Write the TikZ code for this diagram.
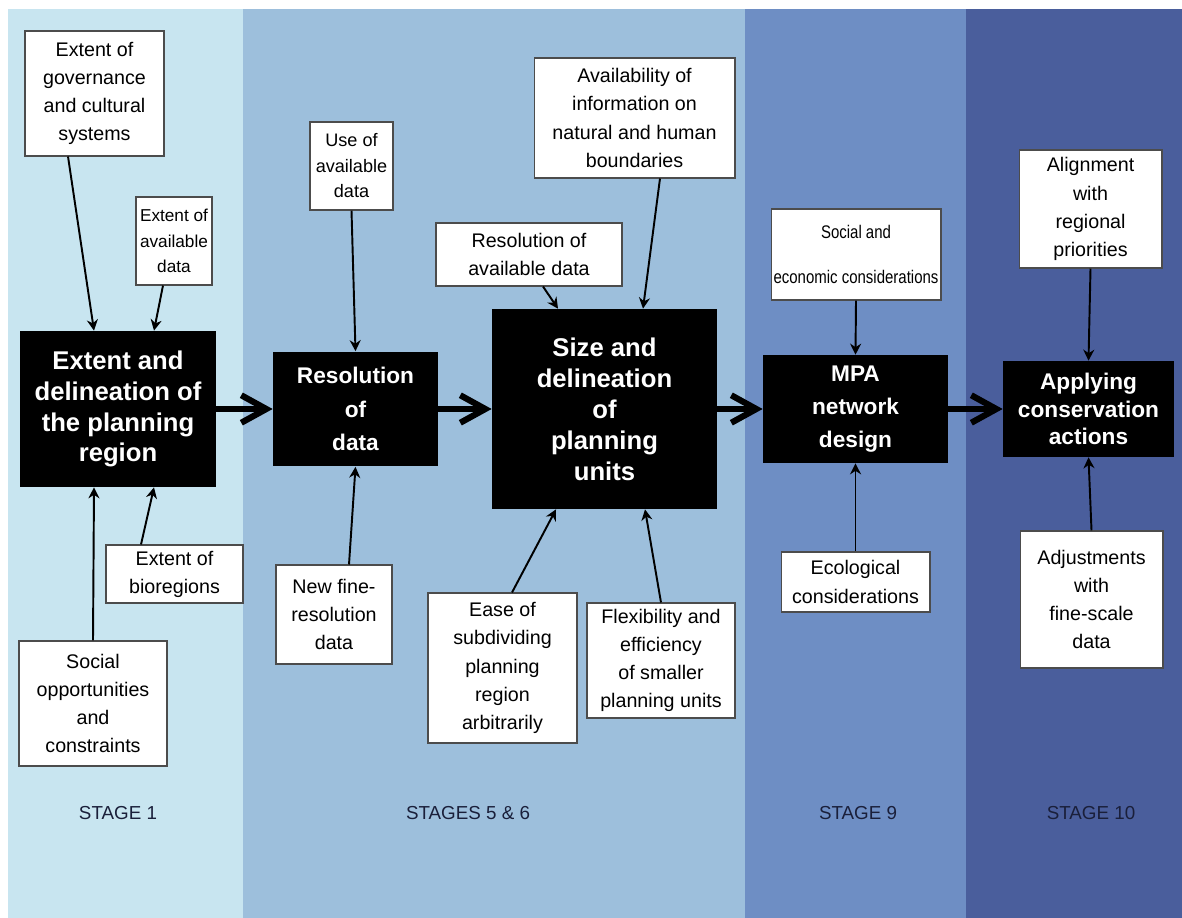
\documentclass[tikz,border=0pt]{standalone}
\usepackage{fontspec}
\setmainfont{Liberation Sans}
\usetikzlibrary{arrows.meta}
\definecolor{bandone}{HTML}{C8E5F0}
\definecolor{bandtwo}{HTML}{9DBFDC}
\definecolor{bandthree}{HTML}{6E8EC4}
\definecolor{bandfour}{HTML}{4A5E9C}
\definecolor{stageink}{HTML}{1A1F3A}
\tikzset{
  stagebox/.style={fill=black, text=white, align=center, inner sep=0pt,
    font=\bfseries\fontsize{14.6}{17.6}\selectfont},
  factor/.style={draw=black!70, line width=0.6pt, fill=white, align=center,
    inner sep=0pt, font=\fontsize{11.2}{16}\selectfont},
  feed/.style={-{Stealth[length=2.2mm,width=2.2mm]}, line width=1.1pt},
  flow/.style={-{Straight Barb[length=5mm,width=5.5mm]}, line width=3.5pt},
  stagelabel/.style={text=stageink, font=\fontsize{10.7}{12}\selectfont}
}
\begin{document}
\begin{tikzpicture}[x=0.02cm, y=-0.02cm]
    \useasboundingbox (0,0) rectangle (1182,918);
    % Background bands
    \fill[bandone] (8,9) rectangle (243,918);
    \fill[bandtwo] (243,9) rectangle (745,918);
    \fill[bandthree] (745,9) rectangle (966,918);
    \fill[bandfour] (966,9) rectangle (1182,918);
    % Stage boxes
    \node[stagebox, minimum width=3.92cm, minimum height=3.12cm] (b1) at (118,409) {Extent and\\delineation of\\the planning\\region};
    \node[stagebox, minimum width=3.30cm, minimum height=2.30cm, font=\bfseries\fontsize{12.9}{19}\selectfont] (b2) at (355.5,409) {Resolution\\of\\data};
    \node[stagebox, minimum width=4.50cm, minimum height=4.00cm] (b3) at (604.5,409) {Size and\\delineation\\of\\planning\\units};
    \node[stagebox, minimum width=3.70cm, minimum height=2.16cm, font=\bfseries\fontsize{12.9}{19}\selectfont] (b4) at (855.5,409) {MPA\\network\\design};
    \node[stagebox, minimum width=3.42cm, minimum height=1.92cm, font=\bfseries\fontsize{12.9}{15.6}\selectfont] (b5) at (1088.5,409) {Applying\\conservation\\actions};
    % Main flow
    \draw[flow] (b1.east) -- (b2.west);
    \draw[flow] (b2.east) -- (b3.west);
    \draw[flow] (b3.east) -- (b4.west);
    \draw[flow] (b4.east) -- (b5.west);
    % Stage 1 factors
    \node[factor, minimum width=2.78cm, minimum height=2.50cm] (gov) at (94.5,93.5) {Extent of\\governance\\and cultural\\systems};
    \node[factor, minimum width=1.52cm, minimum height=1.76cm, font=\fontsize{9.8}{14.5}\selectfont] (extdata) at (174,241) {Extent of\\available\\data};
    \node[factor, minimum width=2.74cm, minimum height=1.16cm] (bioreg) at (174.5,574) {Extent of\\bioregions};
    \node[factor, minimum width=2.96cm, minimum height=2.50cm] (social) at (93,703.5) {Social\\opportunities\\and\\constraints};
    \draw[feed] ([xshift=-0.53cm]gov.south) -- ([xshift=-0.48cm]b1.north);
    \draw[feed] ([xshift=-0.22cm]extdata.south) -- ([xshift=0.72cm]b1.north);
    \draw[feed] ([xshift=-0.67cm]bioreg.north) -- ([xshift=0.72cm]b1.south);
    \draw[feed] (social.north) -- ([xshift=-0.48cm]b1.south);
    % Stages 5 and 6 factors
    \node[factor, minimum width=1.66cm, minimum height=1.76cm, font=\fontsize{10.3}{14.5}\selectfont] (usedata) at (351.5,166) {Use of\\available\\data};
    \node[factor, minimum width=2.32cm, minimum height=1.98cm] (newdata) at (334,614.5) {New fine-\\resolution\\data};
    \node[factor, minimum width=3.72cm, minimum height=1.26cm] (resdata) at (529,254.5) {Resolution of\\available data};
    \node[factor, minimum width=4.02cm, minimum height=2.40cm] (bounds) at (634.5,118) {Availability of\\information on\\natural and human\\boundaries};
    \node[factor, minimum width=2.98cm, minimum height=3.00cm] (ease) at (502.5,668) {Ease of\\subdividing\\planning\\region\\arbitrarily};
    \node[factor, minimum width=2.96cm, minimum height=2.30cm] (flex) at (661,660.5) {Flexibility and\\efficiency\\of smaller\\planning units};
    \draw[feed] (usedata.south) -- (b2.north);
    \draw[feed] ([xshift=0.30cm]newdata.north) -- (b2.south);
    \draw[feed] ([xshift=0.28cm]resdata.south) -- ([xshift=-0.93cm]b3.north);
    \draw[feed] ([xshift=0.51cm]bounds.south) -- ([xshift=0.77cm]b3.north);
    \draw[feed] ([xshift=0.19cm]ease.north) -- ([xshift=-0.97cm]b3.south);
    \draw[feed] (flex.north) -- ([xshift=0.81cm]b3.south);
    % Stage 9 factors
    \node[factor, minimum width=3.40cm, minimum height=1.82cm, font=\fontsize{10.4}{26}\selectfont\addfontfeature{FakeStretch=0.82}] (socecon) at (856,254.5) {Social and\\economic considerations};
    \node[factor, minimum width=2.98cm, minimum height=1.20cm] (ecol) at (855.5,582) {Ecological\\considerations};
    \draw[feed] (socecon.south) -- (b4.north);
    \draw[feed] (ecol.north) -- (b4.south);
    % Stage 10 factors
    \node[factor, minimum width=2.86cm, minimum height=2.36cm] (align) at (1090.5,209) {Alignment\\with\\regional\\priorities};
    \node[factor, minimum width=2.86cm, minimum height=2.74cm] (adjust) at (1091.5,599.5) {Adjustments\\with\\fine-scale\\data};
    \draw[feed] (align.south) -- (b5.north);
    \draw[feed] (adjust.north) -- (b5.south);
    % Stage labels
    \node[stagelabel] (s1) at (118,813) {STAGE 1};
    \node[stagelabel] (s56) at (468,813) {STAGES 5 \& 6};
    \node[stagelabel] (s9) at (858,813) {STAGE 9};
    \node[stagelabel] (s10) at (1091,813) {STAGE 10};
\end{tikzpicture}
\end{document}
